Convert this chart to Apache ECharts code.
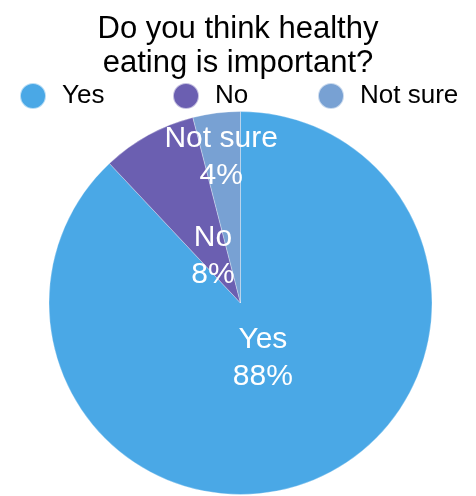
<!DOCTYPE html>
<html>
<head>
<meta charset="utf-8">
<script src="https://cdn.jsdelivr.net/npm/echarts@6/dist/echarts.min.js"></script>
<style>
  html, body { margin: 0; padding: 0; background: #fff; }
  #chart { width: 476px; height: 496px; }
</style>
</head>
<body>
<div id="chart"></div>
<script>
const categories = ['Yes', 'No', 'Not sure'];
const values = [88, 8, 4];
const colors = ['#4aa8e6', '#6b5fb1', '#78a1d3'];

// label shift from the default "inside" spot, per slice
const labelShift = [[-14, -37], [20, 40], [-7, -48]];
// legend item left edges
const legendLeft = [19, 172, 317];

const chart = echarts.init(document.getElementById('chart'));
const font = '"Liberation Sans", Arial, Helvetica, sans-serif';

chart.setOption({
  animation: false,
  title: {
    text: 'Do you think healthy\neating is important?',
    left: 'center',
    top: 7,
    textStyle: {
      fontFamily: font,
      fontSize: 31,
      fontWeight: 'normal',
      color: '#000',
      lineHeight: 34,
    },
  },
  legend: categories.map((name, i) => ({
    data: [name],
    left: legendLeft[i],
    top: 82,
    padding: 0,
    icon: 'circle',
    itemWidth: 26,
    itemHeight: 26,
    selectedMode: false,
    textStyle: {
      fontFamily: font,
      fontSize: 26,
      color: '#000',
      padding: [0, 0, 0, 11],
    },
  })),
  series: [
    {
      type: 'pie',
      center: [240.5, 303],
      radius: 191.5,
      startAngle: 90,
      clockwise: true,
      data: categories.map((name, i) => ({
        name: name,
        value: values[i],
        itemStyle: { color: colors[i] },
      })),
      itemStyle: {
        borderColor: 'rgba(255,255,255,0.6)',
        borderWidth: 0.5,
      },
      label: {
        show: true,
        position: 'inside',
        formatter: '{b}\n{d}%',
        fontFamily: font,
        fontSize: 30,
        lineHeight: 37,
        color: '#fff',
      },
      labelLayout: (p) => ({
        dx: labelShift[p.dataIndex][0],
        dy: labelShift[p.dataIndex][1],
      }),
      labelLine: { show: false },
    },
  ],
});
</script>
</body>
</html>
